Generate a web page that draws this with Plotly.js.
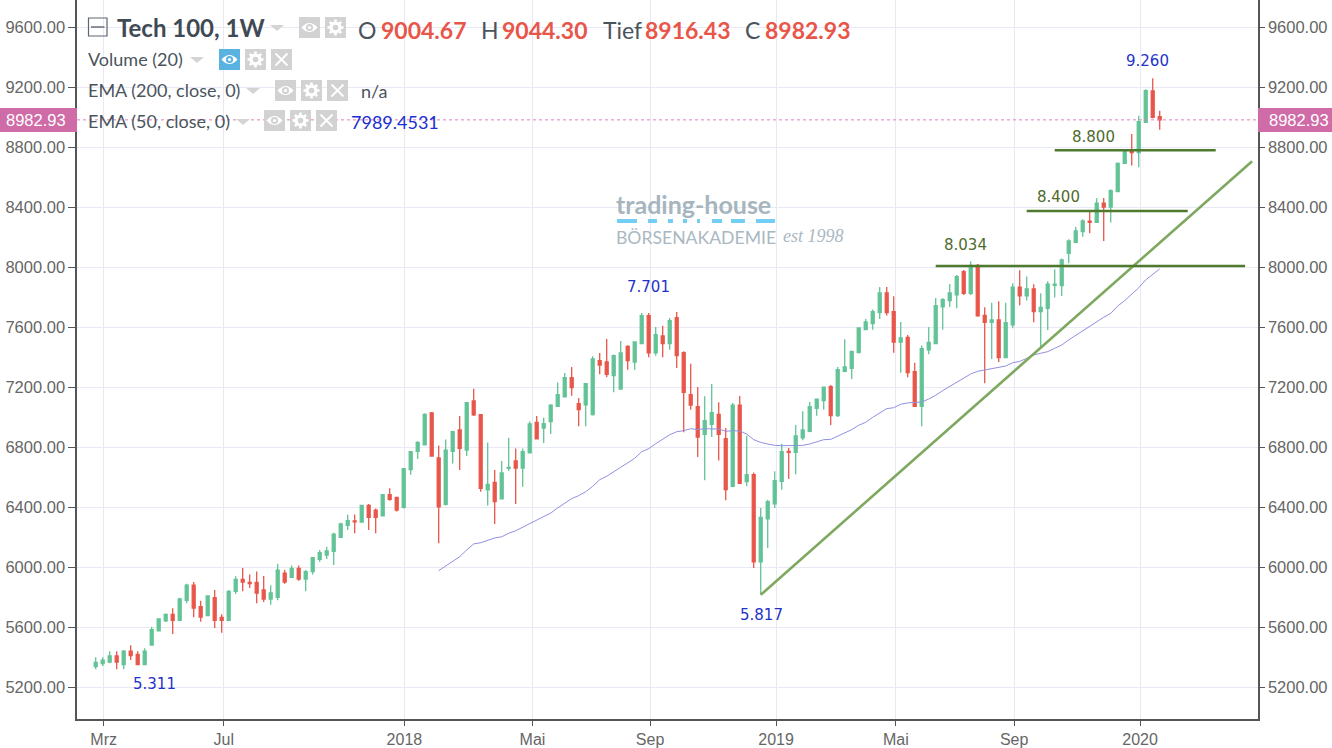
<!DOCTYPE html>
<html><head><meta charset="utf-8">
<script src="https://cdn.plot.ly/plotly-3.0.1.min.js"></script>
<style>html,body{margin:0;padding:0;background:#fff;overflow:hidden}#c{width:1332px;height:748px}</style>
</head><body><div id="c"></div>
<script>
const opens=[5338,5358,5369,5409,5351,5442,5420,5351,5482,5576,5644,5687,5647,5780,5882,5738,5678,5798,5667,5647,5840,5920,5900,5900,5849,5789,5800,5962,5933,5993,5922,5971,6053,6082,6107,6200,6280,6309,6302,6413,6382,6344,6484,6467,6400,6651,6773,6816,7029,6729,6420,6773,6916,6782,7109,7018,6516,6567,6456,6660,6709,6662,6764,6967,6929,6971,7073,7136,7264,7091,7084,7018,7378,7369,7278,7189,7473,7369,7491,7678,7429,7542,7491,7664,7431,7151,7071,6887,6953,7020,6858,6540,7082,6571,6618,6036,6324,6424,6573,6773,6767,6864,6907,7060,7111,7204,7011,7307,7327,7431,7584,7624,7698,7829,7704,7502,7533,7304,7073,7449,7491,7736,7778,7816,7971,7827,8013,7680,7633,7649,7398,7616,7867,7809,7856,7704,7727,7880,7878,8093,8167,8238,8307,8300,8427,8402,8504,8693,8782,8764,8967,9176,9004.67];
const highs=[5400,5400,5440,5440,5449,5480,5440,5460,5604,5656,5693,5727,5798,5891,5902,5778,5809,5849,5687,5849,5940,5996,5953,5973,5942,5880,6024,5982,6013,6013,5982,6064,6116,6138,6231,6298,6353,6353,6413,6422,6393,6487,6527,6471,6660,6773,6840,7027,7036,6813,6853,6904,7009,7098,7191,7020,6833,6649,6709,6864,6793,6793,6973,7009,6998,7087,7233,7296,7336,7129,7224,7407,7429,7522,7418,7509,7480,7502,7696,7696,7602,7611,7662,7702,7440,7358,7202,7140,7222,7100,6929,7096,7142,6878,6633,6396,6451,6640,6824,6796,6949,7040,7102,7122,7202,7216,7336,7520,7440,7600,7656,7718,7869,7869,7807,7636,7549,7364,7478,7602,7796,7796,7889,7949,7982,8040,8022,7733,7764,7773,7764,7893,7980,7938,7887,7827,7907,7987,8058,8187,8271,8320,8378,8460,8462,8520,8698,8787,8889,9011,9187,9260,9044.30];
const lows=[5320,5342,5360,5320,5320,5382,5351,5351,5482,5576,5636,5556,5647,5760,5667,5638,5678,5596,5564,5647,5822,5840,5862,5760,5769,5751,5780,5891,5931,5911,5840,5953,6038,6056,6016,6200,6249,6227,6302,6249,6227,6344,6444,6373,6393,6618,6722,6816,6742,6160,6413,6693,6649,6742,7009,6504,6413,6289,6456,6642,6422,6538,6764,6856,6829,6889,7073,7136,7144,6940,6940,7013,7287,7267,7167,7184,7318,7318,7491,7400,7411,7400,7451,7329,6900,7051,6736,6580,6869,6713,6447,6540,6560,6540,5996,5817,6129,6396,6518,6589,6620,6847,6900,7011,7051,6949,7002,7300,7256,7431,7584,7584,7656,7678,7431,7298,7267,7073,6940,7420,7491,7584,7735,7727,7816,7816,7671,7227,7389,7369,7398,7593,7747,7778,7633,7467,7582,7798,7809,8027,8167,8204,8227,8300,8176,8298,8504,8693,8678,8667,8967,8993,8916.43];
const closes=[5367,5382,5409,5369,5442,5411,5351,5442,5584,5656,5687,5647,5789,5882,5729,5669,5809,5647,5647,5840,5920,5902,5891,5829,5789,5829,5982,5902,5993,5922,5971,6064,6098,6109,6222,6289,6311,6304,6413,6333,6333,6484,6453,6382,6658,6771,6833,7020,6742,6404,6782,6904,6793,7098,7016,6527,6553,6438,6629,6667,6662,6771,6956,6856,6958,7082,7151,7264,7198,7051,7224,7389,7349,7287,7411,7429,7378,7502,7678,7429,7551,7491,7644,7411,7167,7082,6869,6978,7031,6887,6518,7082,6560,6618,6036,6333,6438,6578,6771,6767,6876,6916,7071,7122,7202,7011,7318,7336,7440,7596,7636,7704,7829,7698,7502,7529,7298,7073,7458,7500,7744,7784,7829,7938,7827,8013,7676,7633,7649,7398,7631,7867,7809,7856,7704,7733,7887,7887,8049,8176,8242,8309,8300,8427,8402,8511,8693,8778,8764,8971,9178,9000,8982.93];
const emaFirstBar=49;
const ema50=[5978,6009,6038,6071,6116,6156,6164,6182,6196,6204,6227,6244,6267,6289,6316,6340,6362,6396,6429,6458,6478,6504,6540,6584,6607,6640,6667,6696,6727,6771,6791,6824,6856,6884,6904,6911,6924,6918,6924,6924,6922,6907,6911,6909,6889,6851,6833,6822,6813,6811,6811,6811,6813,6822,6836,6851,6853,6873,6896,6918,6947,6967,7000,7029,7058,7064,7087,7096,7100,7102,7122,7147,7178,7207,7233,7260,7289,7307,7316,7324,7333,7342,7364,7373,7393,7416,7427,7438,7460,7482,7516,7547,7578,7609,7642,7667,7693,7742,7778,7822,7864,7916,7956,7989.45];
const monthTicks=[1.14,18.3,44.1,62.4,79.2,97.2,114.3,131.2,149.2];
const monthLabels=['Mrz','Jul','2018','Mai','Sep','2019','Mai','Sep','2020'];
const priceTicks=[5200,5600,6000,6400,6800,7200,7600,8000,8400,8800,9200,9600];
const trendX=[95,165.2], trendY=[5817,8707];
const level1X=[120,164.2], level1Y=[8009,8009];
const level2X=[133,156], level2Y=[8375,8375];
const level3X=[137,160], level3Y=[8780,8780];
const lastPrice=8982.93;
const blueLabels=[['5.311',8.4,5225],['5.817',95.1,5683],['7.701',79,7866],['9.260',150.3,9378]];
const greenLabels=[['8.034',124.3,8150],['8.400',137.5,8472],['8.800',142.5,8872]];

const L=77,R=1258,B=719;
const W=1332,H=748;
const px=x=>(x-L)/(R-L), py=y=>1-y/B;
const shapes=[],ann=[];
const GRAY='#d2d2d2';
function rect(x0,y0,x1,y1,fill,line){shapes.push({type:'rect',xref:'paper',yref:'paper',x0:px(x0),x1:px(x1),y0:py(y0),y1:py(y1),fillcolor:fill,line:{width:line?1.2:0,color:line||fill}});}
function seg(x0,y0,x1,y1,c,w){shapes.push({type:'line',xref:'paper',yref:'paper',x0:px(x0),x1:px(x1),y0:py(y0),y1:py(y1),line:{color:c,width:w}});}
function circ(cx,cy,r,fill,line,w){shapes.push({type:'circle',xref:'paper',yref:'paper',x0:px(cx-r),x1:px(cx+r),y0:py(cy-r),y1:py(cy+r),fillcolor:fill,line:{width:w||0,color:line||fill}});}
function tri(cx,cy){shapes.push({type:'path',xref:'paper',yref:'paper',path:`M${px(cx-7)},${py(cy-3)} L${px(cx+7)},${py(cy-3)} L${px(cx)},${py(cy+3)} Z`,fillcolor:'#d4d4d4',line:{width:0}});}
function eye(x,y,bg){const s=21;rect(x,y,x+s,y+s,bg);const c=x+s/2,m=y+s/2;
  shapes.push({type:'path',xref:'paper',yref:'paper',path:`M${px(c-8)},${py(m)} Q${px(c)},${py(m-9)} ${px(c+8)},${py(m)} Q${px(c)},${py(m+9)} ${px(c-8)},${py(m)} Z`,fillcolor:'#fff',line:{width:0}});
  circ(c,m,3.6,bg);circ(c,m,1.6,'#fff');}
function gear(x,y){const s=21;rect(x,y,x+s,y+s,GRAY);const c=x+s/2,m=y+s/2;
  for(let a=0;a<4;a++){const t=a*Math.PI/4;seg(c-8*Math.cos(t),m-8*Math.sin(t),c+8*Math.cos(t),m+8*Math.sin(t),'#fff',2.6);}
  circ(c,m,6,'#fff');circ(c,m,2.8,GRAY);}
function cross(x,y){const s=21;rect(x,y,x+s,y+s,GRAY);seg(x+4.5,y+4.5,x+s-4.5,y+s-4.5,'#fff',2);seg(x+s-4.5,y+4.5,x+4.5,y+s-4.5,'#fff',2);}
function txt(x,y,t,size,color,o){ann.push(Object.assign({xref:'paper',yref:'paper',x:px(x),y:py(y),text:t,showarrow:false,xanchor:'left',yanchor:'middle',font:{family:'Lato',size:size,color:color}},o||{}));}

// header
rect(88.5,18,107,36,'rgba(0,0,0,0)','#5b6670');seg(91,27,104.5,27,'#5b6670',1.4);
txt(115,28,'<b>Tech 100, 1W</b>',24,'#3f4a54');
tri(277,28);eye(299,17,GRAY);gear(325,17);
const red='#e8564a';
txt(356,30,'O',23,'#4a545c');txt(379,30,'<b>9004.67</b>',23,red);
txt(479,30,'H',23,'#4a545c');txt(500,30,'<b>9044.30</b>',23,red);
txt(601,30,'Tief',23,'#4a545c');txt(643,30,'<b>8916.43</b>',23,red);
txt(743,30,'C',23,'#4a545c');txt(763,30,'<b>8982.93</b>',23,red);
txt(86,59,'Volume (20)',18,'#4a545c');tri(197,60);eye(219,49,'#5ab2e0');gear(245,49);cross(271,49);
txt(86,90,'EMA (200, close, 0)',18,'#4a545c');tri(253,91);eye(275,80,GRAY);gear(301,80);cross(327,80);
txt(359,91,'n/a',18,'#4a545c');
txt(86,121,'EMA (50, close, 0)',18,'#4a545c');tri(243,122);eye(264,110,GRAY);gear(290,110);cross(316,110);
txt(349,122,'7989.4531',18,'#1a2fd0');

// price tags
rect(0,108,L,132,'#cf6ba6');rect(R,108,W,132,'#cf6ba6');
txt(36,120,'8982.93',16.5,'#fff',{xanchor:'center',font:{family:'Liberation Sans',size:16.5,color:'#fff'}});
txt(1299,120,'8982.93',16.5,'#fff',{xanchor:'center',font:{family:'Liberation Sans',size:16.5,color:'#fff'}});

// watermark
txt(614,204,'<b>trading-house</b>',25,'#a6b5be',{font:{family:'Lato',size:25,color:'#a6b5be'}});
const BLUE='#74cdf2';
rect(617,219,637,223,BLUE);rect(648,219,657,223,BLUE);rect(668,219,673,223,BLUE);rect(683,219,687,223,BLUE);rect(697,219,700,223,BLUE);rect(712,219,722,223,BLUE);rect(731,219,745,223,BLUE);rect(756,219,775,223,BLUE);
txt(614,237,'BÖRSENAKADEMIE',17.6,'#a9b8c1',{font:{family:'Lato',size:17.6,color:'#a9b8c1'}});
txt(781,236,'<i>est 1998</i>',18,'#a9b8c1',{font:{family:'Liberation Serif',size:18,color:'#a9b8c1'}});

// value labels
blueLabels.forEach(b=>ann.push({x:b[1],y:b[2],text:b[0],showarrow:false,font:{family:'DejaVu Sans',size:15,color:'#1f33c9'}}));
greenLabels.forEach(b=>ann.push({x:b[1],y:b[2],text:b[0],showarrow:false,font:{family:'DejaVu Sans',size:15,color:'#4f6b2d'}}));

const idx=opens.map((_,i)=>i);
const traces=[
 {type:'candlestick',x:idx,open:opens,high:highs,low:lows,close:closes,whiskerwidth:0,
  increasing:{line:{color:'#62c396',width:1.3},fillcolor:'#62c396'},
  decreasing:{line:{color:'#e8564a',width:1.3},fillcolor:'#e8564a'},hoverinfo:'skip'},
 {type:'scatter',mode:'lines',x:ema50.map((_,i)=>i+emaFirstBar),y:ema50,line:{color:'#8f90e2',width:1},hoverinfo:'skip'},
 {type:'scatter',mode:'lines',x:trendX,y:trendY,line:{color:'#7ea85f',width:2.6},hoverinfo:'skip'},
 {type:'scatter',mode:'lines',x:level1X,y:level1Y,line:{color:'#4e7a2e',width:2.4},hoverinfo:'skip'},
 {type:'scatter',mode:'lines',x:level2X,y:level2Y,line:{color:'#4e7a2e',width:2.4},hoverinfo:'skip'},
 {type:'scatter',mode:'lines',x:level3X,y:level3Y,line:{color:'#4e7a2e',width:2.4},hoverinfo:'skip'},
 {type:'scatter',mode:'lines',x:[-2.67,166.04],y:[lastPrice,lastPrice],yaxis:'y2',line:{color:'#e07fbe',width:1,dash:'dot'},hoverinfo:'skip'}
];
const yBase={range:[4989,9782],tickmode:'array',tickvals:priceTicks,ticktext:priceTicks.map(v=>v.toFixed(2)),
 showline:true,linecolor:'#555',linewidth:1.6,ticks:'outside',ticklen:5,tickcolor:'#555',tickwidth:1,
 tickfont:{family:'Liberation Sans',size:16.5,color:'#666'},zeroline:false,fixedrange:true};
const layout={width:W,height:H,margin:{l:L,r:W-R,t:0,b:H-B,pad:0},paper_bgcolor:'#fff',plot_bgcolor:'#fff',
 showlegend:false,boxgap:0.4,dragmode:false,
 xaxis:{range:[-2.67,166.04],tickmode:'array',tickvals:monthTicks,ticktext:monthLabels,showgrid:true,gridcolor:'#e9e9f6',gridwidth:1,
  showline:true,linecolor:'#555',linewidth:1.6,ticks:'outside',ticklen:5,tickcolor:'#555',
  tickfont:{family:'Liberation Sans',size:16,color:'#666'},zeroline:false,rangeslider:{visible:false},fixedrange:true},
 yaxis:Object.assign({},yBase,{showgrid:true,gridcolor:'#e9e9f6',gridwidth:1,side:'left',ticklen:7}),
 yaxis2:Object.assign({},yBase,{overlaying:'y',side:'right',showgrid:false}),
 shapes:shapes,annotations:ann};
Plotly.newPlot('c',traces,layout,{displayModeBar:false,staticPlot:true});
</script></body></html>
